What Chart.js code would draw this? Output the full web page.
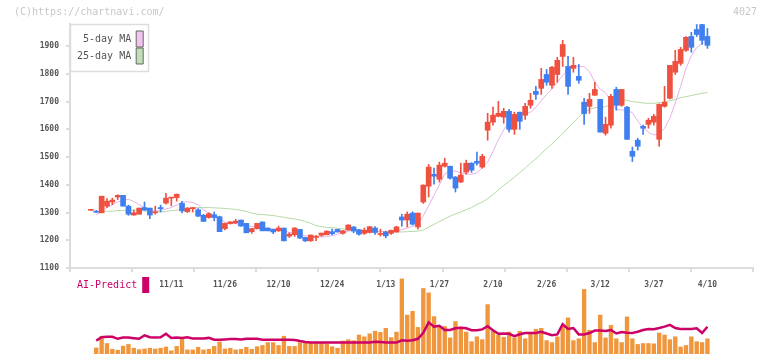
<!DOCTYPE html>
<html><head><meta charset="utf-8">
<script src="https://cdn.jsdelivr.net/npm/chart.js@4.4.1/dist/chart.umd.min.js"></script>
<style>
html,body{margin:0;padding:0;background:#fff;}
#wrap{position:relative;width:772px;height:361px;overflow:hidden;}
#wrap canvas{position:absolute;left:0;top:0;}
</style></head><body>
<div id="wrap"><canvas id="price" width="772" height="361"></canvas><canvas id="vol" width="772" height="361"></canvas></div>
<script>
// ---- data ----
const tickLabels = ['11/11','11/26','12/10','12/24','1/13','1/27','2/10','2/26','3/12','3/27','4/10'];
const tickDays   = [15,25,35,45,55,65,75,85,95,105,115];
const priceTicks = [1100,1200,1300,1400,1500,1600,1700,1800,1900];
const volTicks   = [0,10,20,30,40,50];

const open  = [1308,1303,1299,1323,1338,1356,1362,1323,1291,1294,1318,1316,1299,1318,1334,1352,1354,1333,1303,1314,
               1310,1290,1282,1292,1285,1242,1260,1263,1273,1261,1231,1242,1266,1244,1239,1234,1244,1215,1220,1239,
               1210,1198,1210,1218,1220,1231,1239,1225,1237,1248,1238,1225,1228,1244,1221,1230,1225,1230,1284,1273,
               1298,1248,1338,1395,1438,1420,1467,1467,1428,1410,1446,1478,1485,1464,1597,1626,1647,1644,1665,1600,
               1662,1651,1687,1737,1748,1798,1759,1798,1863,1827,1820,1791,1698,1683,1723,1708,1586,1615,1744,1687,
               1680,1521,1561,1611,1618,1626,1564,1683,1712,1806,1838,1885,1935,1960,1978,1935];
const high  = [1308,1308,1359,1350,1352,1364,1362,1327,1309,1316,1338,1316,1323,1327,1369,1353,1367,1340,1318,1318,
               1314,1294,1299,1302,1287,1262,1268,1276,1273,1261,1243,1261,1266,1245,1240,1251,1244,1227,1246,1239,
               1211,1219,1218,1226,1234,1240,1240,1236,1256,1249,1239,1244,1249,1249,1240,1233,1237,1251,1294,1302,
               1303,1298,1400,1474,1460,1482,1496,1468,1430,1478,1489,1480,1518,1510,1658,1680,1701,1676,1672,1662,
               1662,1694,1730,1755,1820,1816,1827,1860,1921,1863,1860,1834,1712,1730,1770,1708,1644,1726,1752,1744,
               1683,1536,1568,1615,1640,1654,1692,1755,1831,1885,1896,1935,1950,1978,1980,1964];
const low   = [1308,1300,1299,1318,1328,1347,1323,1290,1290,1294,1307,1278,1294,1302,1330,1324,1341,1299,1300,1302,
               1285,1268,1280,1270,1231,1237,1258,1260,1251,1227,1225,1240,1234,1234,1224,1232,1198,1210,1214,1206,
               1195,1196,1199,1214,1220,1219,1229,1222,1236,1227,1218,1221,1226,1221,1215,1209,1221,1229,1251,1248,
               1255,1240,1333,1356,1402,1410,1464,1420,1374,1408,1438,1445,1471,1460,1561,1615,1645,1622,1590,1582,
               1600,1636,1676,1708,1726,1759,1748,1770,1827,1726,1806,1766,1618,1658,1722,1590,1579,1604,1669,1683,
               1564,1484,1525,1582,1604,1615,1539,1680,1710,1798,1831,1881,1878,1935,1906,1892];
const close = [1308,1301,1359,1341,1345,1362,1323,1294,1299,1316,1309,1291,1302,1314,1352,1353,1366,1306,1316,1318,
               1287,1268,1296,1282,1231,1261,1266,1269,1251,1227,1242,1261,1234,1234,1230,1244,1198,1222,1244,1208,
               1198,1219,1211,1226,1233,1224,1230,1234,1255,1233,1222,1236,1249,1228,1222,1216,1236,1248,1273,1294,
               1258,1298,1399,1464,1431,1471,1478,1424,1388,1435,1478,1453,1478,1503,1626,1651,1658,1665,1600,1654,
               1629,1683,1705,1726,1780,1770,1824,1849,1906,1755,1831,1777,1657,1708,1744,1590,1618,1719,1687,1744,
               1564,1503,1539,1604,1633,1647,1690,1698,1831,1845,1888,1932,1896,1942,1921,1903];

const ma5   = [null,1292,1303,1318,1328,1338,1345,1348,1340,1328,1318,1308,1305,1307,1313,1318,1327,1338,1339,1336,
               1328,1310,1298,1290,1276,1266,1262,1260,1256,1253,1250,1246,1245,1243,1241,1239,1235,1228,1225,1220,
               1216,1214,1214,1212,1213,1217,1222,1228,1233,1237,1237,1236,1235,1233,1231,1230,1231,1234,1238,1244,
               1250,1260,1288,1325,1362,1400,1440,1448,1450,1443,1440,1438,1443,1462,1482,1520,1562,1598,1630,1648,
               1653,1656,1662,1680,1703,1726,1745,1770,1794,1815,1826,1828,1826,1808,1770,1745,1733,1700,1672,1670,
               1668,1660,1630,1605,1590,1580,1584,1604,1640,1695,1755,1820,1865,1895,1910,1917];
const ma25  = [null,1304,1304,1305,1305,1307,1308,1309,1309,1308,1306,1303,1302,1302,1304,1307,1309,1311,1313,1316,
               1318,1318,1318,1317,1316,1315,1313,1311,1308,1304,1298,1294,1293,1291,1289,1286,1283,1279,1277,1273,
               1268,1261,1253,1249,1247,1245,1243,1241,1238,1236,1235,1233,1232,1232,1232,1231,1231,1230,1230,1231,
               1232,1233,1237,1247,1257,1268,1277,1287,1295,1302,1310,1318,1329,1338,1350,1365,1382,1398,1412,1428,
               1444,1460,1478,1494,1513,1530,1548,1566,1584,1605,1625,1645,1662,1672,1678,1680,1682,1690,1700,1706,
               1705,1700,1698,1695,1694,1694,1696,1699,1703,1708,1714,1718,1722,1726,1730,1733];

const volume = [null,4.0,11.7,6.9,3.1,2.5,5.2,6.3,3.8,2.9,3.3,3.8,3.3,3.8,4.6,2.1,5.0,9.6,2.7,2.7,
                4.4,2.7,3.1,5.0,7.9,3.3,3.8,2.7,3.1,4.4,3.1,4.8,5.6,7.5,7.5,5.6,11.7,5.0,5.0,7.5,
                7.5,7.5,7.5,7.5,6.7,4.8,3.8,8.5,9.4,8.8,12.5,11.3,13.3,15.0,14.2,16.9,10.8,14.4,49.4,25.6,
                28.1,17.5,43.1,40.2,24.6,17.5,18.1,10.6,21.3,17.7,14.4,8.1,11.3,9.4,32.5,15.2,12.3,11.0,14.4,10.6,
                15.0,10.0,13.1,16.3,16.9,8.8,7.5,11.3,17.9,23.8,8.8,10.0,42.5,15.6,7.5,25.6,10.6,18.8,10.0,7.5,
                24.4,10.0,6.3,6.9,6.9,6.7,13.8,12.5,9.4,11.3,4.6,5.6,11.3,8.1,7.5,10.0];
const aiPredict = [null,8.8,11.0,11.3,11.3,10.0,10.8,10.8,10.4,10.0,12.3,11.0,10.8,11.0,13.3,10.6,10.8,10.6,11.0,10.2,
                10.2,10.2,10.6,9.4,9.4,9.6,9.8,9.8,9.6,10.0,10.0,10.0,9.4,9.4,9.4,9.4,9.4,9.4,9.2,8.5,
                7.9,7.5,7.5,7.5,7.5,7.5,7.5,7.5,7.5,7.5,7.5,7.5,7.5,8.1,7.9,7.5,7.5,7.5,9.0,8.8,
                9.0,10.0,14.0,20.8,18.0,18.5,15.8,15.8,16.9,17.3,16.9,15.6,15.6,16.2,18.3,15.6,13.3,13.5,13.3,11.7,
                13.0,13.8,13.8,13.8,14.6,13.5,12.3,12.9,19.6,16.5,17.1,12.9,12.9,13.8,15.4,15.4,15.2,15.8,13.5,14.4,
                14.0,13.8,14.6,15.8,16.5,16.3,17.1,18.0,19.2,17.1,16.5,16.5,16.5,16.9,13.8,17.9];

// ---- drawing ----
const FONT = '"DejaVu Sans Mono","Liberation Mono",monospace';
const X_MIN = -3.9, X_MAX = 123.5;
const UP = '#f0503f', DOWN = '#3f7fef';
const candleColors = close.map((c, i) => c >= open[i] ? UP : DOWN);
const pts = arr => arr.map((v, i) => ({x: i, y: v}));

const legendPos = {
  id: 'legendPos',
  afterLayout(chart, args, opts) {
    const lg = chart.legend; if (!lg) return;
    const ca = chart.chartArea;
    lg.left = ca.left + opts.dx; lg.top = ca.top + opts.dy;
    lg.right = lg.left + lg.width; lg.height = opts.h; lg.bottom = lg.top + opts.h;
  },
  afterDraw(chart, args, opts) {
    if (!opts.frame) return;
    const ca = chart.chartArea, c = chart.ctx;
    c.save(); c.strokeStyle = '#dddddd'; c.lineWidth = 1.5;
    c.strokeRect(ca.left + 0.5, ca.top + 0.5, opts.frame[0], opts.frame[1]);
    c.restore();
  }
};

new Chart(document.getElementById('price'), {
  type: 'bar',
  plugins: [legendPos],
  data: { datasets: [
    { type: 'bar', label: 'wick', data: low.map((l, i) => ({x: i, y: [l, high[i]]})), backgroundColor: candleColors,
      barThickness: 1, grouped: false, order: 1 },
    { type: 'bar', label: 'body', data: open.map((o, i) => ({x: i, y: [o, close[i]]})), backgroundColor: candleColors,
      barThickness: 5, grouped: false, minBarLength: 1, order: 0 },
    { type: 'line', label: '5-day MA', data: pts(ma5), borderColor: '#e8b0e8', backgroundColor: '#f2c4f0',
      borderWidth: 1, pointRadius: 0, order: 2 },
    { type: 'line', label: '25-day MA', data: pts(ma25), borderColor: '#b4daa6', backgroundColor: '#bfe0b4',
      borderWidth: 1, pointRadius: 0, order: 3 }
  ]},
  options: {
    responsive: false, animation: false, devicePixelRatio: 1, events: [],
    layout: { padding: { left: 14, right: 19, top: 0, bottom: 0 } },
    scales: {
      x: { type: 'linear', min: X_MIN, max: X_MAX, position: 'bottom', weight: 0, offset: false,
           afterBuildTicks: s => { s.ticks = Array.from({length: 12}, (_, k) => ({value: X_MIN + k * (X_MAX - X_MIN) / 11})); },
           ticks: { display: false },
           grid: { drawOnChartArea: false, offset: false, tickLength: 4, color: '#dcdcdc', lineWidth: 2 },
           border: { color: '#dcdcdc', width: 2 },
           afterFit: s => { s.height = 4; } },
      xl: { type: 'linear', min: X_MIN, max: X_MAX, position: 'bottom', weight: 1, offset: false,
           afterBuildTicks: s => { s.ticks = tickDays.map(v => ({value: v})); },
           ticks: { callback: (v, idx) => tickLabels[idx], autoSkip: false, maxRotation: 0, padding: 0,
                    color: '#555', font: { family: FONT, size: 8, weight: 'bold' } },
           grid: { display: false }, border: { display: false },
           afterFit: s => { s.height = 89; } },
      y: { type: 'linear', min: 1100, max: 1980, position: 'left',
           afterBuildTicks: s => { s.ticks = priceTicks.map(v => ({value: v})); },
           ticks: { color: '#555', padding: 7, callback: v => String(v),
                    font: { family: FONT, size: 8, weight: 'bold', lineHeight: 0.75 } },
           grid: { drawOnChartArea: false, tickLength: 4, color: '#dcdcdc', lineWidth: 2 },
           border: { color: '#dcdcdc', width: 2 },
           afterFit: s => { s.width = 56; } }
    },
    plugins: {
      tooltip: { enabled: false },
      title: { display: true, text: '(C)https://chartnavi.com/', align: 'start', color: '#c8c8c8',
               font: { family: FONT, size: 10, weight: 'normal' }, padding: { top: 6, bottom: 6 } },
      legend: { display: true, position: 'chartArea', align: 'start', rtl: true,
        labels: { boxWidth: 7, boxHeight: 16, padding: 1, color: '#555', font: { family: FONT, size: 10 },
          generateLabels: chart => [2, 3].map(di => {
            const ds = chart.data.datasets[di];
            return { text: ds.label, fillStyle: ds.backgroundColor, strokeStyle: '#666', lineWidth: 1,
                     datasetIndex: di, hidden: false, fontColor: '#555' };
          }) } },
      legendPos: { dx: -3, dy: 6, h: 40, frame: [78, 47] }
    }
  }
});

new Chart(document.getElementById('vol'), {
  type: 'bar',
  plugins: [legendPos],
  data: { datasets: [
    { type: 'bar', label: 'Volume', data: pts(volume), backgroundColor: '#f0963c', barThickness: 3.7, order: 2 },
    { type: 'line', label: 'AI-Predict', data: pts(aiPredict), borderColor: '#cc0066', backgroundColor: '#cc0066',
      borderWidth: 2.5, pointRadius: 0, order: 1 }
  ]},
  options: {
    responsive: false, animation: false, devicePixelRatio: 1, events: [],
    layout: { padding: { left: 70, right: 15, top: 0, bottom: 3 } },
    scales: {
      x: { type: 'linear', min: X_MIN, max: X_MAX, display: false, offset: false, grid: { offset: false } },
      y: { type: 'linear', position: 'right', min: 0, max: 50,
           afterBuildTicks: s => { s.ticks = volTicks.map(v => ({value: v})); },
           ticks: { color: '#cc0066', padding: 4, callback: v => String(v),
                    font: { family: FONT, size: 8, weight: 'bold', lineHeight: 0.75 } },
           grid: { display: false }, border: { display: false },
           afterFit: s => { s.width = 4; } }
    },
    plugins: {
      tooltip: { enabled: false },
      title: { display: true, text: '4027', align: 'end', color: '#c8c8c8',
               font: { family: FONT, size: 10, weight: 'normal' }, padding: { top: 6, bottom: 260 } },
      legend: { display: true, position: 'chartArea', align: 'start', rtl: true,
        labels: { boxWidth: 7, boxHeight: 16, padding: 1, color: '#cc0066', font: { family: FONT, size: 10 },
          generateLabels: chart => [1].map(di => {
            const ds = chart.data.datasets[di];
            return { text: ds.label, fillStyle: ds.backgroundColor, strokeStyle: ds.backgroundColor, lineWidth: 0,
                     datasetIndex: di, hidden: false, fontColor: '#cc0066' };
          }) } },
      legendPos: { dx: -3, dy: -2, h: 40 }
    }
  }
});
</script>
</body></html>
